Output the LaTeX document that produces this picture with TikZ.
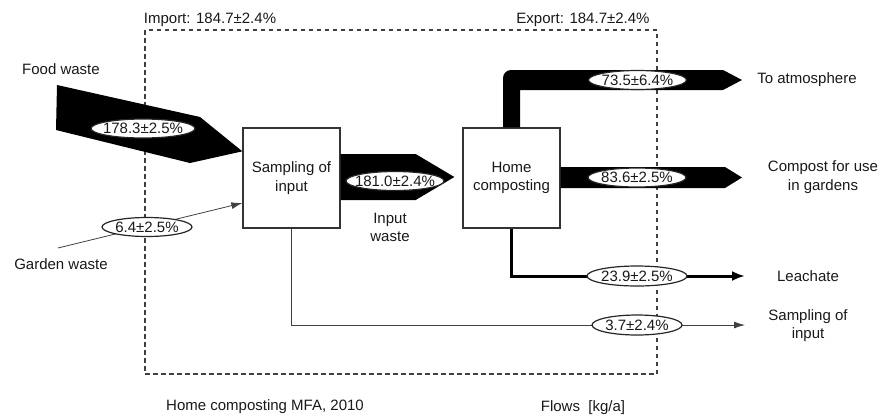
\documentclass[tikz,border=0pt]{standalone}
\usepackage{fontspec}
\setmainfont{Liberation Sans}
\usetikzlibrary{calc,arrows.meta,shapes.geometric}

\begin{document}
\begin{tikzpicture}[x=1pt,y=-1pt,
    every node/.style={font=\fontsize{15}{18.5}\selectfont,align=center,text=black!90},
    proc/.style={draw=black!80,line width=1.3pt,fill=white,minimum width=97pt,minimum height=100pt},
    val/.style={ellipse,draw=black!85,line width=1.2pt,fill=white,inner xsep=-10pt,inner ysep=-4pt,minimum width=98pt,minimum height=19pt},
    bound/.style={black!75,line width=1.1pt,dash pattern=on 4.5pt off 3.5pt},
    thinflow/.style={black!75,line width=0.8pt,-{Latex[length=11pt,width=7pt]}}]
  \useasboundingbox (0,0) rectangle (882,418);
  % system boundary
  \draw[bound] (145,30) rectangle (657,374);
  \node (imp) at (210,20) {Import: 184.7±2.4\%};
  \node (exp) at (583,20) {Export: 184.7±2.4\%};
  \node (mfa) at (265,407) {Home composting MFA, 2010};
  \node (units) at (583,408) {Flows\ \ [kg/a]};
  % processes
  \node[proc] (samp) at (291.5,178) {Sampling of\\input};
  \node[proc] (comp) at (511.5,178) {Home\\composting};
  % sources and sinks
  \node (food) at (61,69) {Food waste};
  \node (garden) at (61,264) {Garden waste};
  \node (atm) at (807,80) {To atmosphere};
  \node (compost) at (823,177) {Compost for use\\in gardens};
  \node (leach) at (808,276) {Leachate};
  \node (sampout) at (808,325.5) {Sampling of\\input};
  \node (inwaste) at (390,227.5) {Input\\waste};
  \coordinate (gardtail) at (58,248);
  \coordinate (leachtip) at (745,276);
  \coordinate (sampouttip) at (745,325);
  % flows
  \fill (57,85) -- (200,117) -- ($(samp.north west)+(0,24)$) -- (190,163) -- (56,130) -- cycle;
  \fill ($(samp.east)+(0,-24)$) -- ($(samp.east)+(75,-24)$) -- ($(comp.west)+(-8,-1)$) -- ($(samp.east)+(75,22)$) -- ($(samp.east)+(0,22)$) -- cycle;
  \fill ($(comp.north)+(-8.5,0)$) -- (503,78) .. controls (503,73.6) and (506.6,70) .. (511,70) -- (723,70) -- (742,80) -- (723,90) -- (520,90) -- ($(comp.north)+(8.5,0)$) -- cycle;
  \fill ($(comp.east)+(0,-11)$) -- (725,167) -- (742,177.5) -- (725,188) -- ($(comp.east)+(0,10)$) -- cycle;
  \draw[line width=3pt,-{Latex[length=13pt,width=10pt]}] ($(comp.south)+(-0.5,0)$) |- (leachtip);
  \draw[thinflow] (samp.south) |- (sampouttip);
  \draw[thinflow] (gardtail) -- ($(samp.west)+(0,25)$);
  % flow values
  \node[val,minimum width=104pt] (v178) at (143,128.5) {178.3±2.5\%};
  \node[val,minimum width=90pt] (v6) at (147,227) {6.4±2.5\%};
  \node[val] (v181) at (395,181) {181.0±2.4\%};
  \node[val] (v73) at (637.5,80) {73.5±6.4\%};
  \node[val] (v83) at (637,177.5) {83.6±2.5\%};
  \node[val,minimum width=100pt,minimum height=20pt] (v23) at (637,276) {23.9±2.5\%};
  \node[val,minimum width=90pt,minimum height=20pt] (v3) at (637,325) {3.7±2.4\%};
\end{tikzpicture}
\end{document}
